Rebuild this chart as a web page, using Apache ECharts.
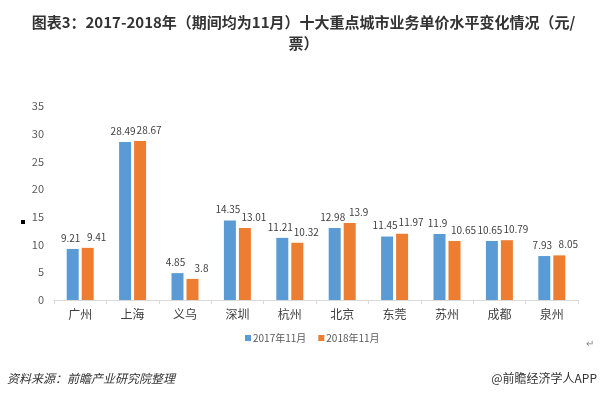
<!DOCTYPE html>
<html lang="zh">
<head>
    <meta charset="UTF-8">
    <title>十大重点城市业务单价</title>
    <style>
        *{ padding:0; margin:0; }
        body{ background:#fff; }
    </style>
    <script src="https://cdn.jsdelivr.net/npm/echarts@6/dist/echarts.min.js"></script>
</head>
<body>
    <div id="main" style="width:607px;height:399px;"></div>
    <script type="text/javascript">
        // 数据
        var cities = ['广州', '上海', '义乌', '深圳', '杭州', '北京', '东莞', '苏州', '成都', '泉州'];
        var data2017 = [9.21, 28.49, 4.85, 14.35, 11.21, 12.98, 11.45, 11.9, 10.65, 7.93];
        var data2018 = [9.41, 28.67, 3.8, 13.01, 10.32, 13.9, 11.97, 10.65, 10.79, 8.05];
        var yTicks = [0, 5, 10, 15, 20, 25, 30, 35];
        var seriesNames = ['2017年11月', '2018年11月'];

        var myChart = echarts.init(document.getElementById('main'));
        var font = '"Noto Sans CJK SC", "Noto Sans", sans-serif';

        // 数据标签（橙色标签整体右移，避免与蓝色重叠）
        function makeLabel(dx) {
            return {
                show: true,
                position: 'top',
                distance: 6,
                offset: [dx, 0],
                color: '#404040',
                fontSize: 10,
                fontFamily: font
            };
        }

        var option = {
            backgroundColor: '#fff',
            title: {
                text: '图表3：2017-2018年（期间均为11月）十大重点城市业务单价水平变化情况（元/\n票）',
                left: 'center',
                top: 7,
                textStyle: {
                    fontSize: 15,
                    fontWeight: 'bold',
                    color: '#333',
                    fontFamily: font,
                    lineHeight: 21
                }
            },
            textStyle: { fontFamily: font },
            grid: {
                left: 54,
                right: 29,
                top: 106,
                bottom: 99
            },
            legend: {
                data: seriesNames,
                top: 328,
                left: 240,
                itemWidth: 6,
                itemHeight: 6,
                itemGap: 12,
                icon: 'rect',
                textStyle: { fontSize: 10, color: '#595959', padding: [0, 0, 0, -3] }
            },
            xAxis: {
                type: 'category',
                data: cities,
                axisLine: { lineStyle: { color: '#d9d9d9' } },
                axisTick: { show: true, length: 4, lineStyle: { color: '#d9d9d9' } },
                axisLabel: { color: '#404040', fontSize: 12, margin: 8 }
            },
            yAxis: {
                type: 'value',
                min: yTicks[0],
                max: yTicks[yTicks.length - 1],
                interval: 5,
                axisLine: { show: false },
                axisTick: { show: false },
                splitLine: { show: false },
                axisLabel: { color: '#595959', fontSize: 11, margin: 10 }
            },
            series: [{
                name: seriesNames[0],
                type: 'bar',
                data: data2017,
                barWidth: 12,
                barGap: '25%',
                itemStyle: { color: '#5b9bd5' },
                label: makeLabel(-2)
            }, {
                name: seriesNames[1],
                type: 'bar',
                data: data2018,
                barWidth: 12,
                itemStyle: { color: '#ed7d31' },
                label: makeLabel(9)
            }],
            graphic: [{
                type: 'rect',
                left: 21,
                top: 220,
                shape: { width: 4, height: 4 },
                style: { fill: '#000' }
            }, {
                type: 'text',
                left: 586,
                top: 338,
                style: { text: '↵', fill: '#888', font: '10px ' + font }
            }, {
                type: 'text',
                left: 7,
                top: 372,
                style: { text: '资料来源：前瞻产业研究院整理', fill: '#333', font: 'italic 12px ' + font }
            }, {
                type: 'text',
                right: 10,
                top: 372,
                style: { text: '@前瞻经济学人APP', fill: '#333', font: '12px ' + font }
            }]
        };

        myChart.setOption(option);
    </script>
</body>
</html>
